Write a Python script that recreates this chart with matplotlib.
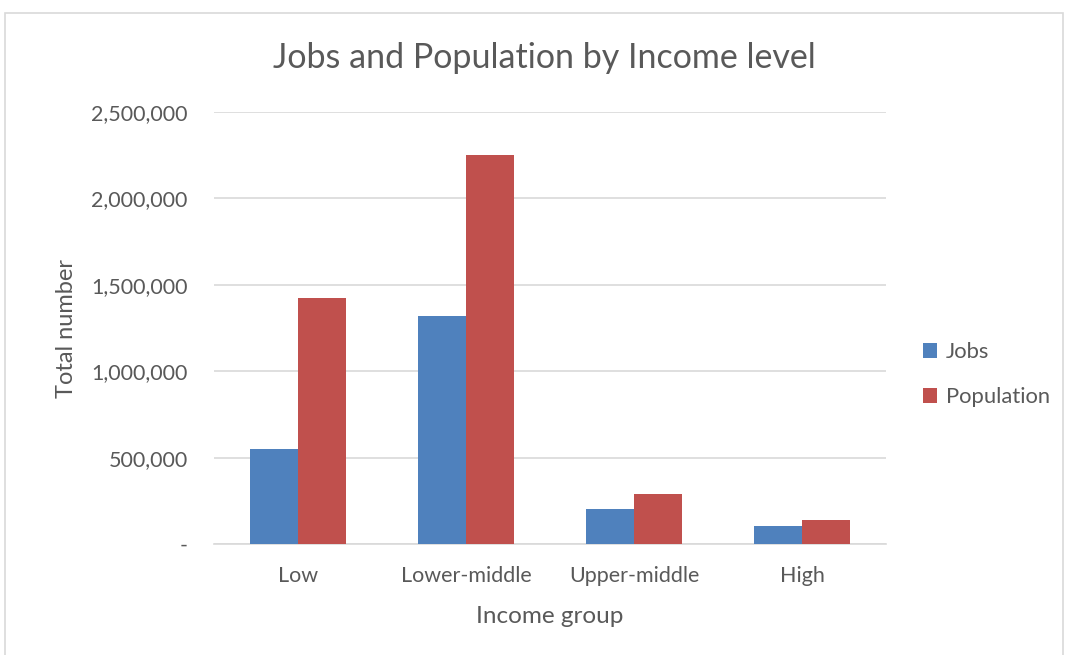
import numpy as np
import matplotlib.pyplot as plt
import matplotlib.ticker as mticker
from matplotlib.patches import Rectangle

# data
groups = ['Low', 'Lower-middle', 'Upper-middle', 'High']
jobs = [550000, 1319000, 204000, 104000]
population = [1424000, 2251000, 288000, 139000]

text_col = '#595959'
plt.rcParams['font.family'] = ['Lato', 'DejaVu Sans']

fig = plt.figure(figsize=(10.65, 6.55), dpi=100)
ax = fig.add_axes([214 / 1065, 1 - 544 / 655, 672 / 1065, 432 / 655])

# chart-area border like the spreadsheet export
fig.patches.append(Rectangle((5 / 1065, -0.1), 1058 / 1065, 1.1 - 13 / 655,
                             transform=fig.transFigure, fill=False,
                             edgecolor='#d9d9d9', linewidth=1.2))

x = np.arange(len(groups))
w = 0.286
ax.bar(x - w / 2, jobs, w, color='#4F81BD', label='Jobs', zorder=3)
ax.bar(x + w / 2, population, w, color='#C0504D', label='Population', zorder=3)

ax.set_xlim(-0.5, len(groups) - 0.5)
ax.set_ylim(0, 2500000)
ax.set_yticks(np.arange(0, 2500001, 500000))
ax.yaxis.set_major_formatter(mticker.FuncFormatter(lambda v, p: '-' if v == 0 else f'{int(v):,}'))
ax.set_xticks(x)
ax.set_xticklabels(groups)
ax.grid(axis='y', color='#d9d9d9', linewidth=1.2, zorder=0)
for s in ['top', 'right', 'left']:
    ax.spines[s].set_visible(False)
ax.spines['bottom'].set_color('#d9d9d9')
ax.spines['bottom'].set_linewidth(1.2)
ax.tick_params(axis='both', length=0, colors=text_col, labelsize=15.5)
ax.tick_params(axis='y', pad=19)
ax.tick_params(axis='x', pad=16)

ax.set_ylabel('Total number', fontsize=17, color=text_col, labelpad=10)
ax.set_xlabel('Income group', fontsize=17.5, color=text_col, labelpad=14)
fig.text(544 / 1065, 1 - 58 / 655, 'Jobs and Population by Income level',
         ha='center', va='center', fontsize=24.5, color=text_col)

leg = ax.legend(loc='center left', bbox_to_anchor=(1.025, 0.392), frameon=False,
                fontsize=15.8, handlelength=0.65, handleheight=0.65, handletextpad=0.4,
                labelspacing=1.15)
for t in leg.get_texts():
    t.set_color(text_col)

fig.savefig('out.png', dpi=100)
